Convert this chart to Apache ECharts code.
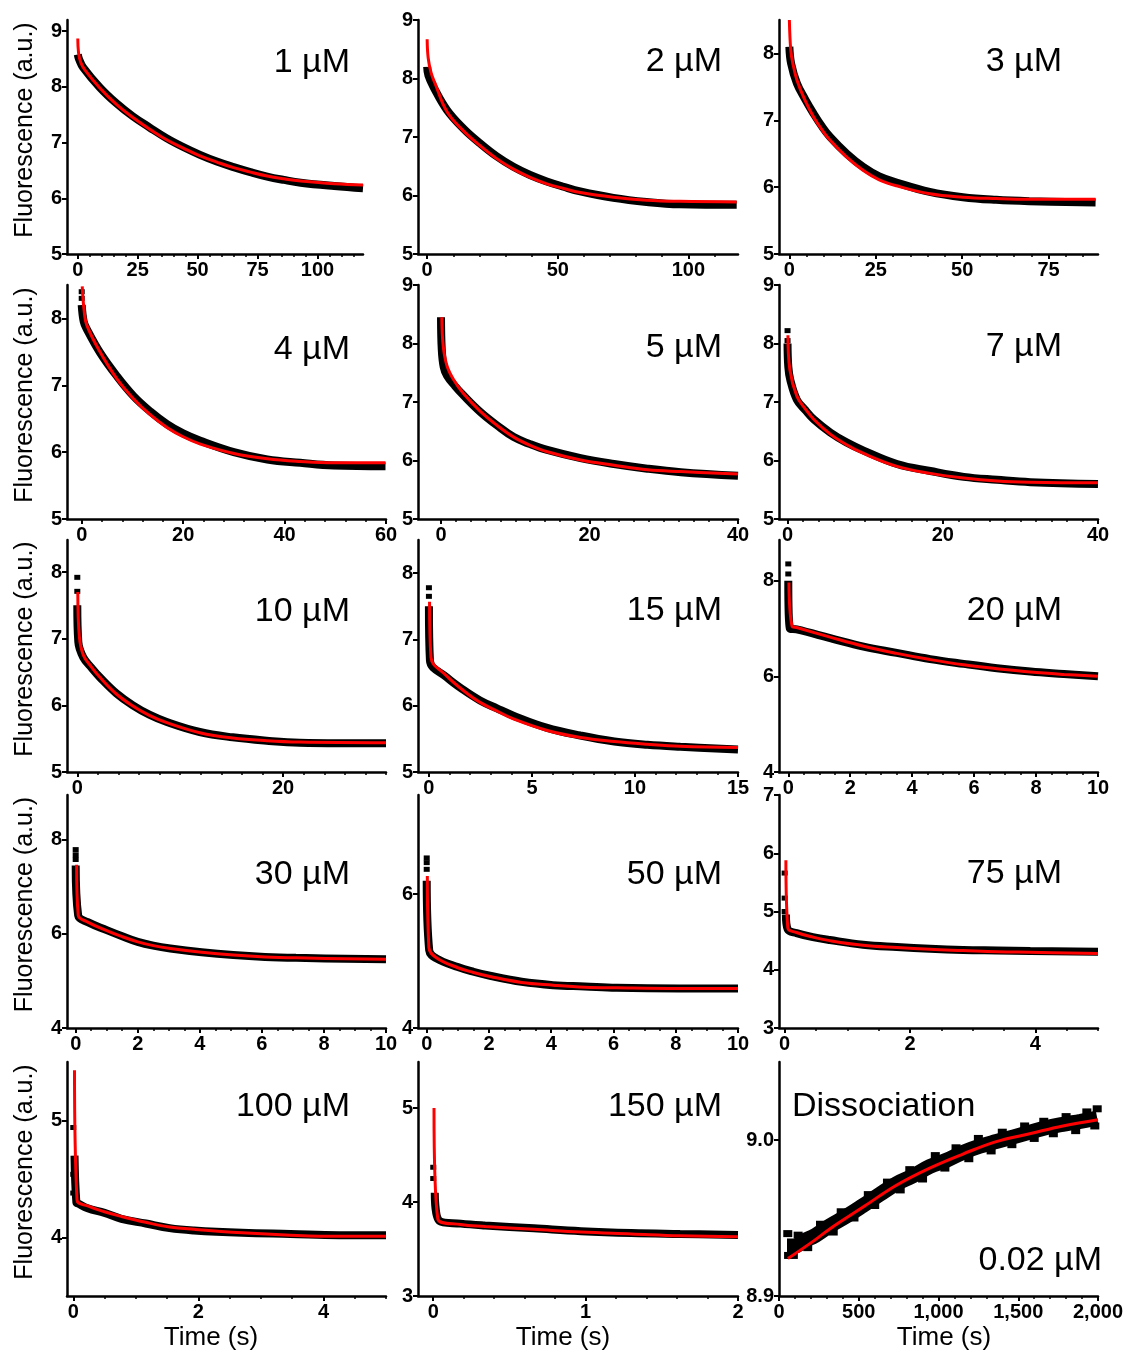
<!DOCTYPE html>
<html>
<head>
<meta charset="utf-8">
<script src="https://cdn.jsdelivr.net/npm/echarts@6.0.0/dist/echarts.min.js"></script>
<style>
html,body{margin:0;padding:0;background:#fff}
#main{width:1129px;height:1353px}
</style>
</head>
<body>
<div id="main"></div>
<script>
// panel titles
var panelLabels = ['1 µM','2 µM','3 µM','4 µM','5 µM','7 µM','10 µM','15 µM','20 µM','30 µM','50 µM','75 µM','100 µM','150 µM','0.02 µM'];

var data_1 = [[0,8.58],[0.5,8.5],[2.2,8.35],[9.2,7.99],[16,7.71],[23,7.47],[30,7.27],[37,7.08],[44,6.92],[51,6.78],[58,6.66],[65,6.56],[72,6.47],[79,6.39],[86,6.33],[93,6.28],[107,6.22],[119,6.18]];
var fit_1  = [[0,8.87],[0.3,8.62],[1.2,8.44],[3,8.3],[9.2,7.98],[16,7.69],[23,7.45],[30,7.24],[37,7.05],[44,6.9],[51,6.76],[58,6.65],[65,6.55],[72,6.47],[79,6.40],[86,6.35],[93,6.31],[107,6.26],[119,6.24]];

var data_2 = [[0,8.2],[0.5,8.05],[2.5,7.85],[7.6,7.46],[14,7.14],[20.3,6.89],[26.6,6.67],[33,6.49],[39.4,6.35],[45.8,6.24],[52.2,6.15],[58.6,6.07],[71.3,5.96],[84,5.89],[96.8,5.85],[118.5,5.84]];
var fit_2  = [[0,8.67],[0.4,8.35],[1.5,8.1],[3,7.92],[7.6,7.43],[14,7.1],[20.3,6.85],[26.6,6.63],[33,6.45],[39.4,6.31],[45.8,6.2],[52.2,6.12],[58.6,6.05],[71.3,5.97],[84,5.92],[96.8,5.9],[118.5,5.89]];

var data_3 = [[0,8.1],[0.5,7.85],[2.2,7.55],[4.5,7.32],[7,7.1],[9.4,6.91],[11.8,6.75],[16.6,6.5],[21.4,6.3],[26,6.16],[31,6.07],[40.6,5.93],[50.2,5.85],[59.8,5.81],[69.4,5.79],[88.6,5.77]];
var fit_3  = [[0,8.5],[0.4,8.05],[1,7.85],[2.2,7.6],[4.5,7.3],[7,7.05],[9.4,6.86],[11.8,6.7],[16.6,6.45],[21.4,6.25],[26,6.11],[31,6.02],[40.6,5.9],[50.2,5.85],[59.8,5.83],[69.4,5.82],[88.6,5.82]];

var data_4 = [[0,8.2],[0.4,7.95],[1,7.84],[3.6,7.49],[6.9,7.14],[10.2,6.84],[13.5,6.61],[16.8,6.42],[20,6.28],[23.4,6.17],[30,6.0],[36.6,5.89],[43.1,5.84],[49.7,5.8],[59.9,5.79]];
var fit_4  = [[0.1,8.48],[0.5,8.1],[1,7.9],[3.6,7.5],[6.9,7.1],[10.2,6.8],[13.5,6.56],[16.8,6.37],[20,6.23],[23.4,6.12],[30,5.98],[36.6,5.9],[43.1,5.86],[49.7,5.84],[59.9,5.84]];
var spike_4 = [[0,8.4],[0,8.3]];

var data_5 = [[0,8.45],[0.1,7.9],[0.36,7.6],[0.81,7.45],[1.9,7.27],[3.05,7.11],[5.3,6.83],[7.55,6.6],[9.8,6.4],[12,6.28],[14.3,6.18],[18.8,6.04],[23.3,5.94],[27.8,5.86],[32.3,5.8],[40,5.74]];
var fit_5  = [[0.1,8.45],[0.3,7.95],[0.8,7.62],[1.7,7.38],[3.05,7.14],[5.3,6.84],[7.55,6.6],[9.8,6.4],[12,6.26],[14.3,6.15],[18.8,6.01],[23.3,5.92],[27.8,5.84],[32.3,5.81],[40,5.77]];

var data_6 = [[0,8.0],[0.1,7.6],[0.35,7.38],[1.2,7.04],[2.3,6.86],[3.4,6.7],[5.5,6.48],[7.6,6.31],[9.8,6.17],[14.1,5.94],[18.4,5.82],[22.7,5.72],[27,5.67],[31.3,5.63],[40,5.6]];
var fit_6  = [[0.05,8.14],[0.3,7.55],[1.2,7.1],[2.3,6.88],[3.4,6.7],[5.5,6.45],[7.6,6.27],[9.8,6.12],[14.1,5.9],[18.4,5.78],[22.7,5.7],[27,5.65],[31.3,5.63],[40,5.62]];
var spike_6 = [[0,8.22],[0,8.05]];

var data_7 = [[0,7.5],[0.1,6.95],[0.58,6.72],[1.4,6.56],[2.2,6.42],[3.8,6.18],[5.4,6.0],[7,5.86],[8.7,5.75],[11.9,5.6],[15.1,5.52],[18.4,5.47],[21.6,5.44],[30,5.43]];
var fit_7  = [[0.05,7.7],[0.2,7.03],[0.6,6.75],[1.4,6.57],[2.2,6.42],[3.8,6.17],[5.4,5.99],[7,5.85],[8.7,5.74],[11.9,5.59],[15.1,5.51],[18.4,5.47],[21.6,5.45],[30,5.44]];
var spike_7 = [[0,7.92],[0,7.71]];

var data_8 = [[0,7.5],[0.05,6.68],[0.86,6.43],[1.67,6.24],[2.48,6.08],[3.3,5.96],[4.1,5.85],[5.7,5.67],[7.35,5.55],[9,5.46],[10.6,5.41],[12.2,5.38],[15,5.34]];
var fit_8  = [[0.03,7.57],[0.1,6.73],[0.86,6.45],[1.67,6.23],[2.48,6.05],[3.3,5.92],[4.1,5.8],[5.7,5.63],[7.35,5.52],[9,5.46],[10.6,5.42],[12.2,5.39],[15,5.37]];
var spike_8 = [[0,7.78],[0,7.65]];

var data_9 = [[0,8.0],[0.05,7.0],[0.27,6.98],[1.35,6.8],[2.43,6.62],[3.5,6.49],[4.58,6.36],[5.66,6.26],[6.74,6.17],[7.82,6.1],[8.9,6.05],[10,6.0]];
var fit_9  = [[0.02,7.96],[0.12,7.05],[0.27,7.02],[1.35,6.82],[2.43,6.63],[3.5,6.48],[4.58,6.35],[5.66,6.24],[6.74,6.16],[7.82,6.09],[8.9,6.04],[10,6.0]];
var spike_9 = [[0,8.35],[0,8.14]];

var data_10 = [[0,7.45],[0.08,6.39],[0.39,6.25],[1,6.08],[1.5,5.95],[2,5.83],[2.5,5.75],[3.05,5.69],[4.06,5.61],[5.08,5.55],[6.1,5.51],[7.1,5.49],[10,5.46]];
var fit_10  = [[0.03,7.47],[0.08,6.4],[0.39,6.25],[1,6.07],[1.5,5.94],[2,5.83],[2.5,5.75],[3.05,5.69],[4.06,5.61],[5.08,5.55],[6.1,5.51],[7.1,5.49],[10,5.46]];
var spike_10 = [[0,7.79],[0,7.68],[0,7.58]];

var data_11 = [[0,6.2],[0.08,5.16],[0.31,5.04],[1,4.91],[1.5,4.84],[2.03,4.78],[3.05,4.69],[4.06,4.64],[5.08,4.62],[6.1,4.6],[8.1,4.59],[10,4.59]];
var fit_11  = [[0.02,6.27],[0.07,5.2],[0.31,5.05],[1,4.9],[1.5,4.83],[2.03,4.77],[3.05,4.68],[4.06,4.64],[5.08,4.61],[6.1,4.6],[8.1,4.59],[10,4.59]];
var spike_11 = [[0,6.54],[0,6.47],[0,6.37]];

var data_12 = [[0.02,4.95],[0.05,4.69],[0.19,4.63],[0.45,4.56],[0.72,4.51],[1.25,4.43],[1.79,4.39],[2.32,4.36],[2.85,4.34],[3.39,4.33],[3.92,4.32],[5,4.31]];
var fit_12  = [[0.02,5.88],[0.05,4.72],[0.19,4.64],[0.45,4.56],[0.72,4.5],[1.25,4.42],[1.79,4.38],[2.32,4.35],[2.85,4.33],[3.39,4.31],[3.92,4.3],[5,4.28]];
var spike_12 = [[0,5.66],[0,5.23],[0,5.0]];

var data_13 = [[0.02,4.7],[0.05,4.3],[0.08,4.29],[0.23,4.25],[0.5,4.21],[0.77,4.16],[1.16,4.12],[1.54,4.08],[1.93,4.06],[2.7,4.04],[3.47,4.03],[4.25,4.02],[5,4.02]];
var fit_13  = [[0.02,5.43],[0.06,4.32],[0.23,4.27],[0.5,4.22],[0.77,4.18],[1.16,4.13],[1.54,4.09],[1.93,4.07],[2.7,4.04],[3.47,4.02],[4.25,4.01],[5,4.01]];
var spike_13 = [[0,4.94],[0,4.54],[0,4.38]];

var data_14 = [[0.01,4.1],[0.04,3.8],[0.18,3.77],[0.34,3.75],[0.66,3.72],[0.97,3.69],[1.3,3.67],[1.62,3.66],[2,3.65]];
var fit_14  = [[0.005,5.0],[0.03,3.82],[0.18,3.76],[0.34,3.74],[0.66,3.71],[0.97,3.68],[1.3,3.66],[1.62,3.64],[2,3.63]];
var spike_14 = [[0,4.37],[0,4.25]];

var data_15 = [[50,8.932],[100,8.932],[150,8.935],[230,8.939],[318,8.945],[420,8.951],[527,8.958],[630,8.965],[736,8.972],[840,8.977],[945,8.983],[1050,8.987],[1153,8.992],[1260,8.996],[1362,8.999],[1470,9.002],[1571,9.005],[1680,9.008],[1780,9.010],[1890,9.012],[1995,9.014]];
var fit_15  = [[56,8.924],[213,8.935],[318,8.943],[527,8.957],[736,8.971],[945,8.982],[1153,8.991],[1362,8.999],[1571,9.004],[1780,9.009],[2000,9.013]];
// ragged edges of the noisy dissociation trace
var noise_15 = [[55,8.940],[60,8.926],[90,8.926],[120,8.939],[180,8.931],[260,8.946],[340,8.941],[390,8.954],[470,8.950],[560,8.965],[600,8.958],[680,8.973],[760,8.968],[820,8.981],[900,8.975],[980,8.990],[1040,8.982],[1110,8.995],[1190,8.988],[1250,9.001],[1330,8.993],[1400,9.005],[1460,8.997],[1540,9.009],[1600,9.001],[1660,9.012],[1720,9.004],[1800,9.015],[1860,9.006],[1930,9.018],[1980,9.009],[1995,9.020]];

var allData = [data_1,data_2,data_3,data_4,data_5,data_6,data_7,data_8,data_9,data_10,data_11,data_12,data_13,data_14,data_15];
var allFits = [fit_1,fit_2,fit_3,fit_4,fit_5,fit_6,fit_7,fit_8,fit_9,fit_10,fit_11,fit_12,fit_13,fit_14,fit_15];
var allSpikes = [null,null,null,spike_4,null,spike_6,spike_7,spike_8,spike_9,spike_10,spike_11,spike_12,spike_13,spike_14,noise_15];

// axis ranges and tick labels
var xRanges = [[-4.5,119],[-3.5,119],[-3,89.3],[-2.9,60],[-3.1,40],[-1.1,40],[-1,30],[-0.53,15],[-0.3,10],[-0.28,10],[-0.28,10],[-0.09,5],[-0.1,5],[-0.1,2],[0,2000]];
var yRanges = [[5,9.2],[5,9],[5,8.5],[5,8.5],[5,9],[5,9],[5,8.48],[5,8.5],[4,8.85],[4,8.95],[4,7.48],[3,7],[3.5,5.5],[3,5.49],[8.9,9.05]];
var xTicks = [[0,25,50,75,100],[0,50,100],[0,25,50,75],[0,20,40,60],[0,20,40],[0,20,40],[0,20],[0,5,10,15],[0,2,4,6,8,10],[0,2,4,6,8,10],[0,2,4,6,8,10],[0,2,4],[0,2,4],[0,1,2],[0,500,1000,1500,2000]];
var xMinorStep = [5,10,5,4,2,2,2,1,0.5,0.5,0.5,0.5,0.5,0.2,100];
var yTicks = [[5,6,7,8,9],[5,6,7,8,9],[5,6,7,8],[5,6,7,8],[5,6,7,8,9],[5,6,7,8,9],[5,6,7,8],[5,6,7,8],[4,6,8],[4,6,8],[4,6],[3,4,5,6,7],[4,5],[3,4,5],[8.9,9.0]];

var FONT = '"Liberation Sans", Arial, sans-serif';
var myChart = echarts.init(document.getElementById('main'));

var rowTop = [20,285,540,795,1062];
var rowH = [234,234,232,233,234];
var colLeft = [67,418,779];
var colW = [319,320,319];

var grids = [], xAxes = [], yAxes = [], series = [], graphics = [];

for (var i = 0; i < 15; i++) {
  var r = Math.floor(i / 3), c = i % 3;
  grids.push({left: colLeft[c], top: rowTop[r], width: i === 0 ? 296 : colW[c], height: rowH[r]});

  var minors = [];
  for (var k = 1; k * xMinorStep[i] <= xRanges[i][1] + 1e-9; k++) {
    var v = Math.round(k * xMinorStep[i] * 1000) / 1000;
    if (xTicks[i].indexOf(v) < 0) minors.push(v);
  }
  var xfmt = i === 14 ? function (v) { return v >= 1000 ? Math.floor(v / 1000) + ',' + String(v % 1000).padStart(3, '0') : String(v); } : null;
  var yfmt = i === 14 ? function (v) { return v.toFixed(1); } : null;

  xAxes.push({
    type: 'value', gridIndex: i, min: xRanges[i][0], max: xRanges[i][1], position: 'bottom',
    axisLine: {show: true, onZero: false, lineStyle: {color: '#000', width: 2.5}},
    axisTick: {show: true, length: 5, customValues: xTicks[i], lineStyle: {color: '#000', width: 2}},
    axisLabel: {customValues: xTicks[i], margin: 6, color: '#000', fontSize: 20, fontWeight: 'bold', fontFamily: FONT, formatter: xfmt},
    splitLine: {show: false}
  });
  // minor ticks
  xAxes.push({
    type: 'value', gridIndex: i, min: xRanges[i][0], max: xRanges[i][1], position: 'bottom',
    axisLine: {show: false, onZero: false},
    axisTick: {show: true, length: 3, customValues: minors, lineStyle: {color: '#000', width: 1.5}},
    axisLabel: {show: false},
    splitLine: {show: false}
  });
  yAxes.push({
    type: 'value', gridIndex: i, min: yRanges[i][0], max: yRanges[i][1],
    axisLine: {show: true, onZero: false, lineStyle: {color: '#000', width: 2.5}},
    axisTick: {show: true, length: 5, customValues: yTicks[i], lineStyle: {color: '#000', width: 2}},
    axisLabel: {customValues: yTicks[i], margin: 5, color: '#000', fontSize: 20, fontWeight: 'bold', fontFamily: FONT, formatter: yfmt},
    splitLine: {show: false}
  });

  series.push({
    type: 'line', xAxisIndex: 2 * i, yAxisIndex: i, data: allData[i],
    showSymbol: false, smooth: 0.4, z: 2,
    lineStyle: {color: '#000', width: i === 14 ? 15 : 8}
  });
  if (allSpikes[i]) {
    series.push({
      type: 'scatter', xAxisIndex: 2 * i, yAxisIndex: i, data: allSpikes[i],
      symbol: 'rect', symbolSize: i === 14 ? [9, 7] : [6, 5],
      itemStyle: {color: '#000', opacity: 1}, z: 2
    });
  }
  series.push({
    type: 'line', xAxisIndex: 2 * i, yAxisIndex: i, data: allFits[i],
    showSymbol: false, smooth: 0.4, z: 3,
    lineStyle: {color: '#ff0000', width: 3}
  });
}

// concentration labels
var labelPos = [[350,63],[722,62],[1062,62],[350,350],[722,348],[1062,347],[350,612],[722,611],[1062,611],[350,875],[722,875],[1062,874],[350,1107],[722,1107],[1102,1261]];
for (var j = 0; j < 15; j++) {
  graphics.push({type: 'text', x: labelPos[j][0], y: labelPos[j][1], z: 10,
    style: {text: panelLabels[j], fill: '#000', font: 'normal 34px ' + FONT, align: 'right', verticalAlign: 'middle'}});
}
graphics.push({type: 'text', x: 792, y: 1107, z: 10,
  style: {text: 'Dissociation', fill: '#000', font: 'normal 34px ' + FONT, align: 'left', verticalAlign: 'middle'}});

// axis titles
for (var q = 0; q < 5; q++) {
  graphics.push({type: 'text', x: 25, y: rowTop[q] + rowH[q] / 2 - 7, rotation: Math.PI / 2,
    style: {text: 'Fluorescence (a.u.)', fill: '#000', font: 'normal 25px ' + FONT, align: 'center', verticalAlign: 'middle'}});
}
[211, 563, 944].forEach(function (cx) {
  graphics.push({type: 'text', x: cx, y: 1338,
    style: {text: 'Time (s)', fill: '#000', font: 'normal 26px ' + FONT, align: 'center', verticalAlign: 'middle'}});
});

var option = {
  animation: false,
  backgroundColor: '#fff',
  grid: grids,
  xAxis: xAxes,
  yAxis: yAxes,
  series: series,
  graphic: graphics
};
myChart.setOption(option);
</script>
</body>
</html>
